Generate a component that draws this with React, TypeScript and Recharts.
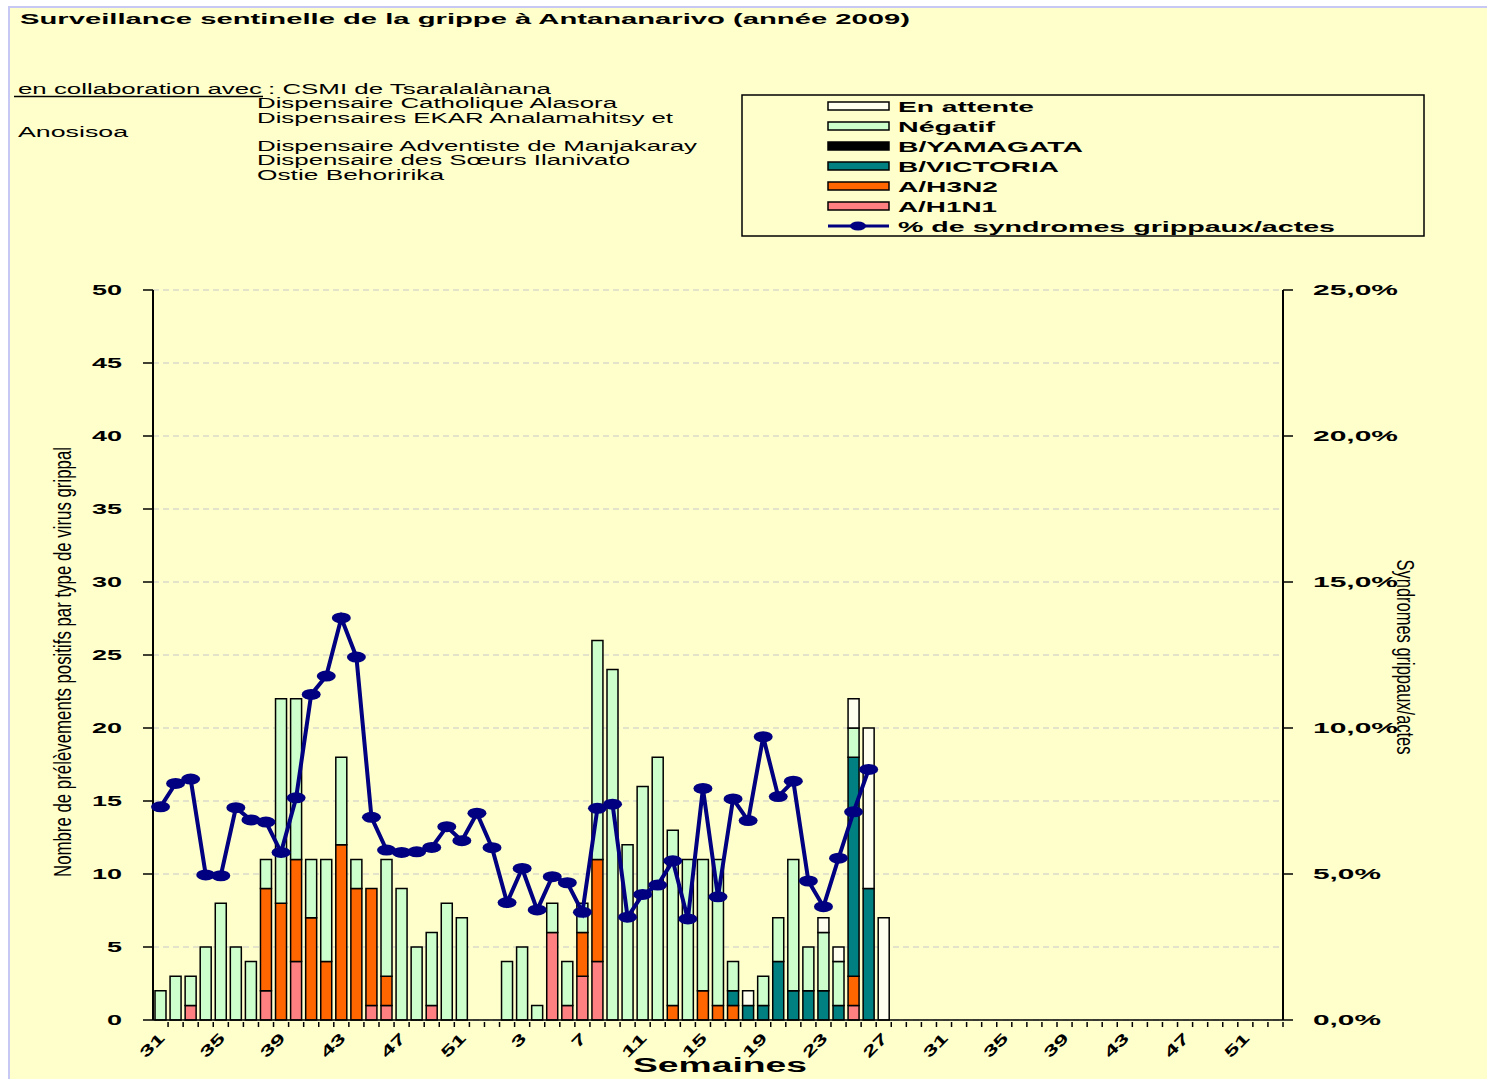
import React from 'react';
import { ComposedChart, Bar, Line, XAxis, YAxis, CartesianGrid } from 'recharts';

// semaines 31-52 (2008) puis 1-53 (2009)
const weeks2008 = [31, 32, 33, 34, 35, 36, 37, 38, 39, 40, 41, 42, 43, 44, 45, 46, 47, 48, 49, 50, 51, 52];
const weeks2009 = [
  1, 2, 3, 4, 5, 6, 7, 8, 9, 10, 11, 12, 13, 14, 15, 16, 17, 18, 19, 20, 21, 22, 23, 24, 25, 26, 27,
  28, 29, 30, 31, 32, 33, 34, 35, 36, 37, 38, 39, 40, 41, 42, 43, 44, 45, 46, 47, 48, 49, 50, 51, 52, 53,
];

const h1n1_2008 = [0, 0, 1, 0, 0, 0, 0, 2, 0, 4, 0, 0, 0, 0, 1, 1, 0, 0, 1, 0, 0, 0];
const h1n1_2009 = [
  0, 0, 0, 0, 6, 1, 3, 4, 0, 0, 0, 0, 0, 0, 0, 0, 0, 0, 0, 0, 0, 0, 0, 0, 1, 0, 0,
  0, 0, 0, 0, 0, 0, 0, 0, 0, 0, 0, 0, 0, 0, 0, 0, 0, 0, 0, 0, 0, 0, 0, 0, 0, 0,
];
const h3n2_2008 = [0, 0, 0, 0, 0, 0, 0, 7, 8, 7, 7, 4, 12, 9, 8, 2, 0, 0, 0, 0, 0, 0];
const h3n2_2009 = [
  0, 0, 0, 0, 0, 0, 3, 7, 0, 0, 0, 0, 1, 0, 2, 1, 1, 0, 0, 0, 0, 0, 0, 0, 2, 0, 0,
  0, 0, 0, 0, 0, 0, 0, 0, 0, 0, 0, 0, 0, 0, 0, 0, 0, 0, 0, 0, 0, 0, 0, 0, 0, 0,
];
const bvic2008 = [0, 0, 0, 0, 0, 0, 0, 0, 0, 0, 0, 0, 0, 0, 0, 0, 0, 0, 0, 0, 0, 0];
const bvic2009 = [
  0, 0, 0, 0, 0, 0, 0, 0, 0, 0, 0, 0, 0, 0, 0, 0, 1, 1, 1, 4, 2, 2, 2, 1, 15, 9, 0,
  0, 0, 0, 0, 0, 0, 0, 0, 0, 0, 0, 0, 0, 0, 0, 0, 0, 0, 0, 0, 0, 0, 0, 0, 0, 0,
];
const byam2008 = [0, 0, 0, 0, 0, 0, 0, 0, 0, 0, 0, 0, 0, 0, 0, 0, 0, 0, 0, 0, 0, 0];
const byam2009 = [
  0, 0, 0, 0, 0, 0, 0, 0, 0, 0, 0, 0, 0, 0, 0, 0, 0, 0, 0, 0, 0, 0, 0, 0, 0, 0, 0,
  0, 0, 0, 0, 0, 0, 0, 0, 0, 0, 0, 0, 0, 0, 0, 0, 0, 0, 0, 0, 0, 0, 0, 0, 0, 0,
];
const neg2008 = [2, 3, 2, 5, 8, 5, 4, 2, 14, 11, 4, 7, 6, 2, 0, 8, 9, 5, 5, 8, 7, 0];
const neg2009 = [
  0, 4, 5, 1, 2, 3, 2, 15, 24, 12, 16, 18, 12, 11, 9, 10, 2, 0, 2, 3, 9, 3, 4, 3, 2, 0, 0,
  0, 0, 0, 0, 0, 0, 0, 0, 0, 0, 0, 0, 0, 0, 0, 0, 0, 0, 0, 0, 0, 0, 0, 0, 0, 0,
];
const attente2008 = [0, 0, 0, 0, 0, 0, 0, 0, 0, 0, 0, 0, 0, 0, 0, 0, 0, 0, 0, 0, 0, 0];
const attente2009 = [
  0, 0, 0, 0, 0, 0, 0, 0, 0, 0, 0, 0, 0, 0, 0, 0, 0, 1, 0, 0, 0, 0, 1, 1, 2, 11, 7,
  0, 0, 0, 0, 0, 0, 0, 0, 0, 0, 0, 0, 0, 0, 0, 0, 0, 0, 0, 0, 0, 0, 0, 0, 0, 0,
];
// % de syndromes grippaux / actes
const pct2008 = [
  7.3, 8.1, 8.25, 4.97, 4.94, 7.27, 6.85, 6.78, 5.74, 7.61, 11.15, 11.78, 13.77, 12.43, 6.94, 5.82,
  5.74, 5.76, 5.91, 6.62, 6.14, 7.08,
];
const pct2009 = [
  5.9, 4.02, 5.19, 3.77, 4.91, 4.7, 3.69, 7.25, 7.39, 3.52, 4.3, 4.62, 5.45, 3.46, 7.93, 4.22, 7.57,
  6.83, 9.7, 7.65, 8.18, 4.76, 3.88, 5.54, 7.13, 8.58, null, null, null, null, null, null, null, null,
  null, null, null, null, null, null, null, null, null, null, null, null, null, null, null, null, null,
  null, null,
];

const leftTicks = [0, 5, 10, 15, 20, 25, 30, 35, 40, 45, 50];
const rightTicks = [0, 5, 10, 15, 20, 25];

const weeks = [...weeks2008, ...weeks2009];
const h1n1 = [...h1n1_2008, ...h1n1_2009];
const h3n2 = [...h3n2_2008, ...h3n2_2009];
const bvic = [...bvic2008, ...bvic2009];
const byam = [...byam2008, ...byam2009];
const neg = [...neg2008, ...neg2009];
const attente = [...attente2008, ...attente2009];
const pct = [...pct2008, ...pct2009];

const data = weeks.map((w, i) => ({
  i,
  h1n1: h1n1[i],
  h3n2: h3n2[i],
  bvic: bvic[i],
  byam: byam[i],
  neg: neg[i],
  attente: attente[i],
  pct: pct[i],
}));

const FONT = '"Liberation Sans", Arial, sans-serif';
const PLOT_L = 153;
const PLOT_R = 1283;
const BAND = (PLOT_R - PLOT_L) / weeks.length;

const C = {
  attente: '#FFFFF0',
  neg: '#CCFFCC',
  byam: '#000000',
  bvic: '#008080',
  h3n2: '#FF6600',
  h1n1: '#FF8080',
  line: '#000080',
};

const XTick = (props: any) => {
  const { x, y, payload } = props;
  const i = payload.value as number;
  return (
    <g>
      <line x1={x + BAND / 2} y1={y} x2={x + BAND / 2} y2={y + 5} stroke="#000" strokeWidth={1.5} />
      {i % 4 === 0 && (
        <text
          transform={`translate(${x + 5},${y + 17}) rotate(-45)`}
          textAnchor="end"
          fontFamily={FONT}
          fontWeight="bold"
          fontSize={15}
          textLength={String(weeks[i]).length * 14}
          lengthAdjust="spacingAndGlyphs"
          fill="#000"
        >
          {weeks[i]}
        </text>
      )}
    </g>
  );
};

const LeftTick = (props: any) => {
  const { x, y, payload } = props;
  const s = String(payload.value);
  return (
    <text x={x} y={y + 5} textAnchor="end" fontFamily={FONT} fontWeight="bold" fontSize={15}
      textLength={s.length * 15} lengthAdjust="spacingAndGlyphs" fill="#000">
      {s}
    </text>
  );
};

const RightTick = (props: any) => {
  const { x, y, payload } = props;
  const s = payload.value.toFixed(1).replace('.', ',') + '%';
  return (
    <text x={x} y={y + 5} textAnchor="start" fontFamily={FONT} fontWeight="bold" fontSize={14}
      textLength={s.length * 17} lengthAdjust="spacingAndGlyphs" fill="#000">
      {s}
    </text>
  );
};

const Dot = (props: any) => {
  const { cx, cy, value, index } = props;
  if (value == null || cy == null) return <g key={index} />;
  return <ellipse key={index} cx={cx} cy={cy} rx={9.5} ry={5.5} fill={C.line} />;
};

const legendItems = [
  { name: 'En attente', fill: C.attente, w: 136 },
  { name: 'Négatif', fill: C.neg, w: 97 },
  { name: 'B/YAMAGATA', fill: C.byam, w: 185 },
  { name: 'B/VICTORIA', fill: C.bvic, w: 161 },
  { name: 'A/H3N2', fill: C.h3n2, w: 100 },
  { name: 'A/H1N1', fill: C.h1n1, w: 99 },
];

const collab = [
  { t: 'Dispensaire Catholique Alasora', x: 257, y: 108, w: 360 },
  { t: 'Dispensaires EKAR Analamahitsy et', x: 257, y: 123, w: 416 },
  { t: 'Anosisoa', x: 18, y: 137, w: 110 },
  { t: 'Dispensaire Adventiste de Manjakaray', x: 257, y: 151, w: 440 },
  { t: 'Dispensaire des Sœurs Ilanivato', x: 257, y: 165, w: 373 },
  { t: 'Ostie Behoririka', x: 257, y: 180, w: 187 },
];

export default function App() {
  return (
    <div style={{ position: 'fixed', left: 0, top: 0, width: 1487, height: 1079, background: '#fff' }}>
      <div
        style={{
          position: 'absolute', left: 8, top: 6, right: 0, bottom: 0,
          background: '#FFFFCC', borderLeft: '2px solid #C8C8F4', borderTop: '2px solid #C8C8F4',
        }}
      />
      <div style={{ position: 'absolute', left: 0, top: 0 }}>
        <ComposedChart
          width={1487}
          height={1079}
          data={data}
          margin={{ top: 290, right: 74, bottom: 9, left: 93 }}
          barSize={11}
        >
          <CartesianGrid yAxisId="left" vertical={false} stroke="#C8C8C8" strokeDasharray="6 4" strokeWidth={1.2} />
          <XAxis
            dataKey="i"
            type="category"
            interval={0}
            height={50}
            tickSize={0}
            tickLine={false}
            axisLine={{ stroke: '#000', strokeWidth: 1.5 }}
            tick={<XTick />}
          />
          <YAxis
            yAxisId="left"
            width={60}
            domain={[0, 50]}
            ticks={leftTicks}
            tickSize={10}
            tickMargin={21}
            axisLine={{ stroke: '#000', strokeWidth: 2 }}
            tickLine={{ stroke: '#000', strokeWidth: 1.5 }}
            tick={<LeftTick />}
          />
          <YAxis
            yAxisId="right"
            orientation="right"
            width={130}
            domain={[0, 25]}
            ticks={rightTicks}
            tickSize={10}
            tickMargin={20}
            axisLine={{ stroke: '#000', strokeWidth: 2 }}
            tickLine={{ stroke: '#000', strokeWidth: 1.5 }}
            tick={<RightTick />}
          />
          <Bar yAxisId="left" dataKey="h1n1" stackId="a" fill={C.h1n1} stroke="#000" strokeWidth={1.5} isAnimationActive={false} />
          <Bar yAxisId="left" dataKey="h3n2" stackId="a" fill={C.h3n2} stroke="#000" strokeWidth={1.5} isAnimationActive={false} />
          <Bar yAxisId="left" dataKey="bvic" stackId="a" fill={C.bvic} stroke="#000" strokeWidth={1.5} isAnimationActive={false} />
          <Bar yAxisId="left" dataKey="byam" stackId="a" fill={C.byam} stroke="#000" strokeWidth={1.5} isAnimationActive={false} />
          <Bar yAxisId="left" dataKey="neg" stackId="a" fill={C.neg} stroke="#000" strokeWidth={1.5} isAnimationActive={false} />
          <Bar yAxisId="left" dataKey="attente" stackId="a" fill={C.attente} stroke="#000" strokeWidth={1.5} isAnimationActive={false} />
          <Line
            yAxisId="right"
            dataKey="pct"
            type="linear"
            stroke={C.line}
            strokeWidth={4}
            dot={<Dot />}
            activeDot={false}
            connectNulls={false}
            isAnimationActive={false}
          />
        </ComposedChart>
      </div>
      <svg
        width={1487}
        height={1079}
        style={{ position: 'absolute', left: 0, top: 0, pointerEvents: 'none' }}
        fontFamily={FONT}
      >
        <text x={20} y={24} fontWeight="bold" fontSize={15} textLength={890} lengthAdjust="spacingAndGlyphs">
          Surveillance sentinelle de la grippe à Antananarivo  (année 2009)
        </text>
        <text x={18} y={94} fontSize={14} textLength={244} lengthAdjust="spacingAndGlyphs">
          en collaboration avec
        </text>
        <line x1={14} y1={96.5} x2={263} y2={96.5} stroke="#000" strokeWidth={1.5} />
        <text x={268} y={94} fontSize={14} textLength={283} lengthAdjust="spacingAndGlyphs">
          : CSMI de Tsaralalànana
        </text>
        {collab.map((c) => (
          <text key={c.t} x={c.x} y={c.y} fontSize={14} textLength={c.w} lengthAdjust="spacingAndGlyphs">
            {c.t}
          </text>
        ))}

        <rect x={742} y={95} width={682} height={141} fill="none" stroke="#000" strokeWidth={1.5} />
        {legendItems.map((it, k) => (
          <g key={it.name}>
            <rect x={828} y={102 + k * 20} width={61} height={8} fill={it.fill} stroke="#000" strokeWidth={1.5} />
            <text x={898} y={112 + k * 20} fontWeight="bold" fontSize={15} textLength={it.w} lengthAdjust="spacingAndGlyphs">
              {it.name}
            </text>
          </g>
        ))}
        <line x1={828} y1={226} x2={889} y2={226} stroke={C.line} strokeWidth={3} />
        <ellipse cx={858} cy={226} rx={8} ry={4.5} fill={C.line} />
        <text x={898} y={232} fontWeight="bold" fontSize={15} textLength={437} lengthAdjust="spacingAndGlyphs">
          % de syndromes  grippaux/actes
        </text>

        <text
          transform="translate(71,662) rotate(-90)"
          textAnchor="middle"
          fontSize={23}
          textLength={430}
          lengthAdjust="spacingAndGlyphs"
        >
          Nombre de prélèvements  positifs par type de virus grippal
        </text>
        <text
          transform="translate(1397,657) rotate(90)"
          textAnchor="middle"
          fontSize={23}
          textLength={195}
          lengthAdjust="spacingAndGlyphs"
        >
          Syndromes grippaux/actes
        </text>
        <text x={720} y={1072} textAnchor="middle" fontWeight="bold" fontSize={20} textLength={174} lengthAdjust="spacingAndGlyphs">
          Semaines
        </text>
      </svg>
    </div>
  );
}
